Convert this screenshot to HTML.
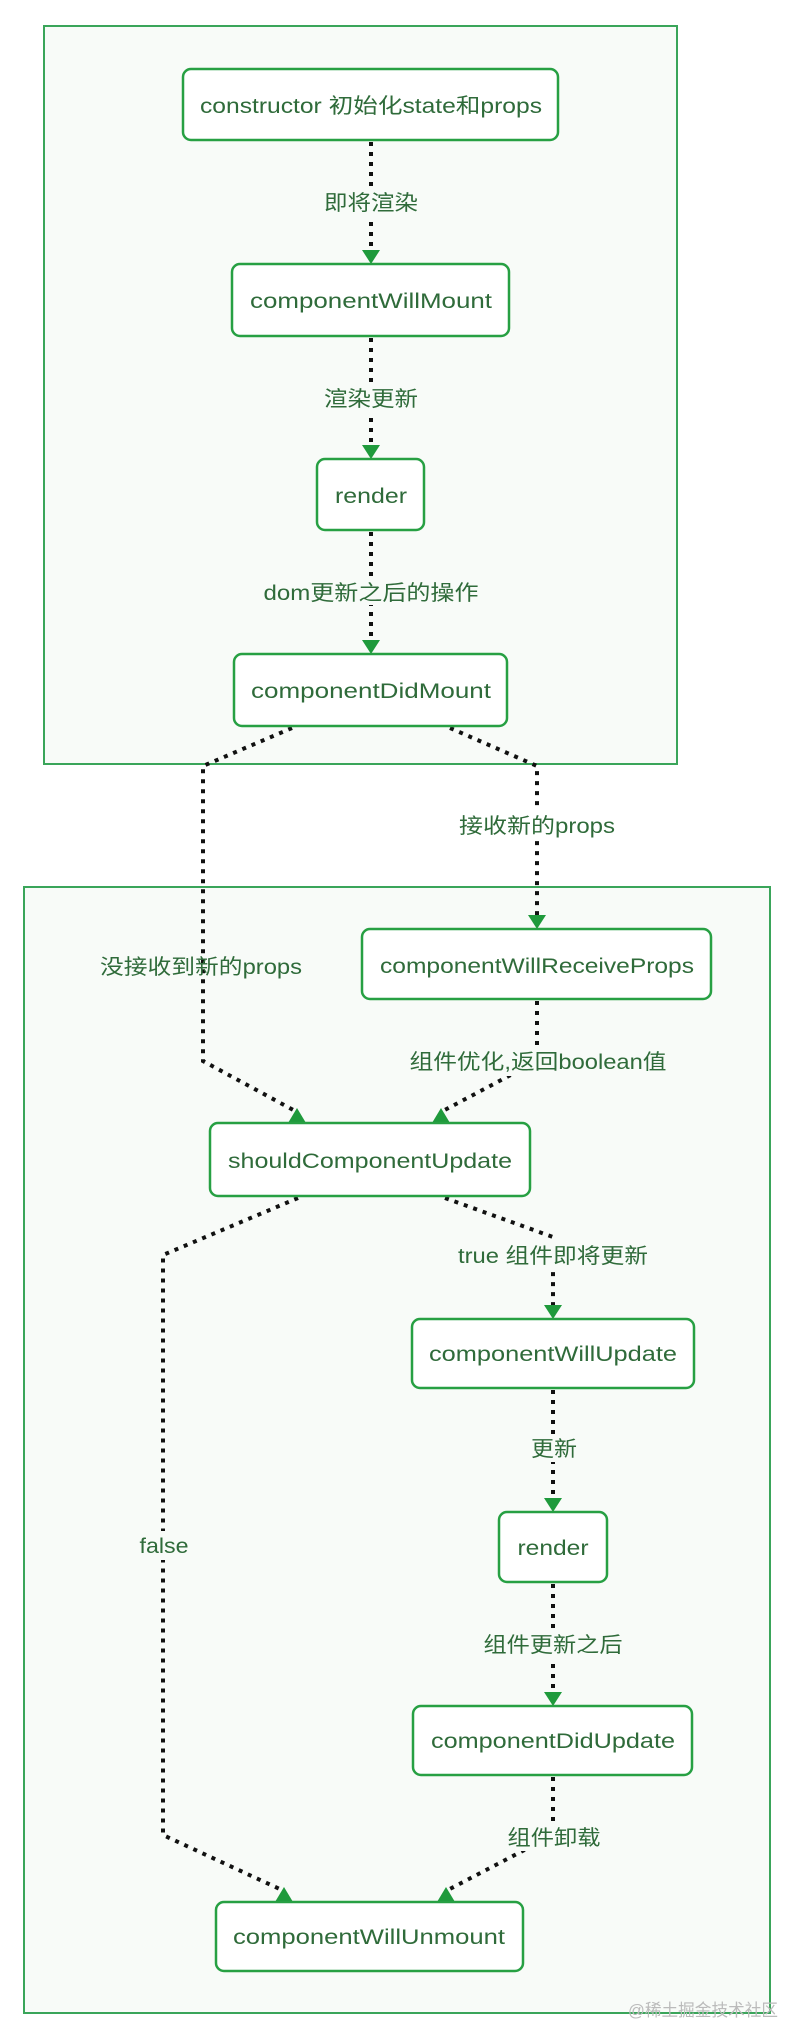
<!DOCTYPE html>
<html><head><meta charset="utf-8"><style>
html,body{margin:0;padding:0;background:#fff;}
svg{display:block}
text{font-family:"Liberation Sans","Noto Sans CJK SC",sans-serif;fill:#2f6b3a;font-size:21px;}
.n{fill:#fff;stroke:#27a043;stroke-width:2.5}
.d{fill:none;stroke:#111;stroke-width:4;stroke-dasharray:4 6}
.a{fill:#1f9a3c}
.lb{fill:#f8fbf8}
</style></head><body>
<svg width="800" height="2044" viewBox="0 0 800 2044">
<rect x="44" y="26" width="633" height="738" fill="#f8fbf8" stroke="#3aa55a" stroke-width="2"/>
<rect x="24" y="887" width="746" height="1126" fill="#f8fbf8" stroke="#3aa55a" stroke-width="2"/>

<!-- connectors top -->
<path class="d" d="M371 142 V252"/>
<polygon class="a" points="362,250 380,250 371,264"/>
<path class="d" d="M371 338 V447"/>
<polygon class="a" points="362,445 380,445 371,459"/>
<path class="d" d="M371 532 V642"/>
<polygon class="a" points="362,640 380,640 371,654"/>
<path class="d" d="M292 728 L203 766 V1061 L297 1112"/>
<polygon class="a" points="288,1123 306,1123 297,1108"/>
<path class="d" d="M450 728 L537 766 V915"/>
<polygon class="a" points="528,915 546,915 537,929"/>
<path class="d" d="M537 1001 V1061 L441 1112"/>
<polygon class="a" points="432,1123 450,1123 441,1108"/>
<path class="d" d="M298 1198 L163 1255 V1835 L284 1891"/>
<polygon class="a" points="275,1902 293,1902 284,1887"/>
<path class="d" d="M445 1198 L553 1237 V1307"/>
<polygon class="a" points="544,1305 562,1305 553,1319"/>
<path class="d" d="M553 1390 V1498"/>
<polygon class="a" points="544,1498 562,1498 553,1512"/>
<path class="d" d="M553 1584 V1692"/>
<polygon class="a" points="544,1692 562,1692 553,1706"/>
<path class="d" d="M553 1777 V1835 L446 1891"/>
<polygon class="a" points="437,1902 455,1902 446,1887"/>

<!-- nodes -->
<rect class="n" x="183" y="69" width="375" height="71" rx="8"/>
<text x="371" y="113" text-anchor="middle" textLength="342" lengthAdjust="spacingAndGlyphs">constructor 初始化state和props</text>
<rect class="n" x="232" y="264" width="277" height="72" rx="8"/>
<text x="371" y="308" text-anchor="middle" textLength="242" lengthAdjust="spacingAndGlyphs">componentWillMount</text>
<rect class="n" x="317" y="459" width="107" height="71" rx="8"/>
<text x="371" y="503" text-anchor="middle" textLength="72" lengthAdjust="spacingAndGlyphs">render</text>
<rect class="n" x="234" y="654" width="273" height="72" rx="8"/>
<text x="371" y="698" text-anchor="middle" textLength="240" lengthAdjust="spacingAndGlyphs">componentDidMount</text>

<rect class="n" x="362" y="929" width="349" height="70" rx="8"/>
<text x="537" y="973" text-anchor="middle" textLength="314" lengthAdjust="spacingAndGlyphs">componentWillReceiveProps</text>
<rect class="n" x="210" y="1123" width="320" height="73" rx="8"/>
<text x="370" y="1168" text-anchor="middle" textLength="284" lengthAdjust="spacingAndGlyphs">shouldComponentUpdate</text>
<rect class="n" x="412" y="1319" width="282" height="69" rx="8"/>
<text x="553" y="1361" text-anchor="middle" textLength="248" lengthAdjust="spacingAndGlyphs">componentWillUpdate</text>
<rect class="n" x="499" y="1512" width="108" height="70" rx="8"/>
<text x="553" y="1555" text-anchor="middle" textLength="71" lengthAdjust="spacingAndGlyphs">render</text>
<rect class="n" x="413" y="1706" width="279" height="69" rx="8"/>
<text x="553" y="1748" text-anchor="middle" textLength="244" lengthAdjust="spacingAndGlyphs">componentDidUpdate</text>
<rect class="n" x="216" y="1902" width="307" height="69" rx="8"/>
<text x="369" y="1944" text-anchor="middle" textLength="272" lengthAdjust="spacingAndGlyphs">componentWillUnmount</text>

<!-- labels -->
<g>
<rect class="lb" x="322" y="188" width="98" height="28"/>
<text x="371" y="210" text-anchor="middle" textLength="94" lengthAdjust="spacingAndGlyphs">即将渲染</text>
<rect class="lb" x="322" y="384" width="98" height="28"/>
<text x="371" y="406" text-anchor="middle" textLength="94" lengthAdjust="spacingAndGlyphs">渲染更新</text>
<rect class="lb" x="262" y="577" width="220" height="28"/>
<text x="371" y="600" text-anchor="middle" textLength="215" lengthAdjust="spacingAndGlyphs">dom更新之后的操作</text>
<rect x="457" y="811" width="162" height="28" fill="#fff"/>
<text x="537" y="833" text-anchor="middle" textLength="156" lengthAdjust="spacingAndGlyphs">接收新的props</text>
<text x="201" y="974" text-anchor="middle" textLength="202" lengthAdjust="spacingAndGlyphs">没接收到新的props</text>
<rect class="lb" x="407" y="1046" width="262" height="30"/>
<text x="538" y="1069" text-anchor="middle" textLength="257" lengthAdjust="spacingAndGlyphs">组件优化,返回boolean值</text>
<rect class="lb" x="456" y="1240" width="195" height="29"/>
<text x="553" y="1263" text-anchor="middle" textLength="190" lengthAdjust="spacingAndGlyphs">true 组件即将更新</text>
<rect class="lb" x="529" y="1434" width="50" height="28"/>
<text x="554" y="1456" text-anchor="middle" textLength="46" lengthAdjust="spacingAndGlyphs">更新</text>
<rect class="lb" x="482" y="1629" width="144" height="29"/>
<text x="553" y="1652" text-anchor="middle" textLength="139" lengthAdjust="spacingAndGlyphs">组件更新之后</text>
<rect class="lb" x="137" y="1531" width="54" height="29"/>
<text x="164" y="1553" text-anchor="middle" textLength="49" lengthAdjust="spacingAndGlyphs">false</text>
<rect class="lb" x="505" y="1822" width="98" height="29"/>
<text x="554" y="1845" text-anchor="middle" textLength="93" lengthAdjust="spacingAndGlyphs">组件卸载</text>
<text x="628" y="2016" style="font-size:17px;fill:#bbb" textLength="150" lengthAdjust="spacingAndGlyphs">@稀土掘金技术社区</text>
</g>
</svg>
</body></html>
